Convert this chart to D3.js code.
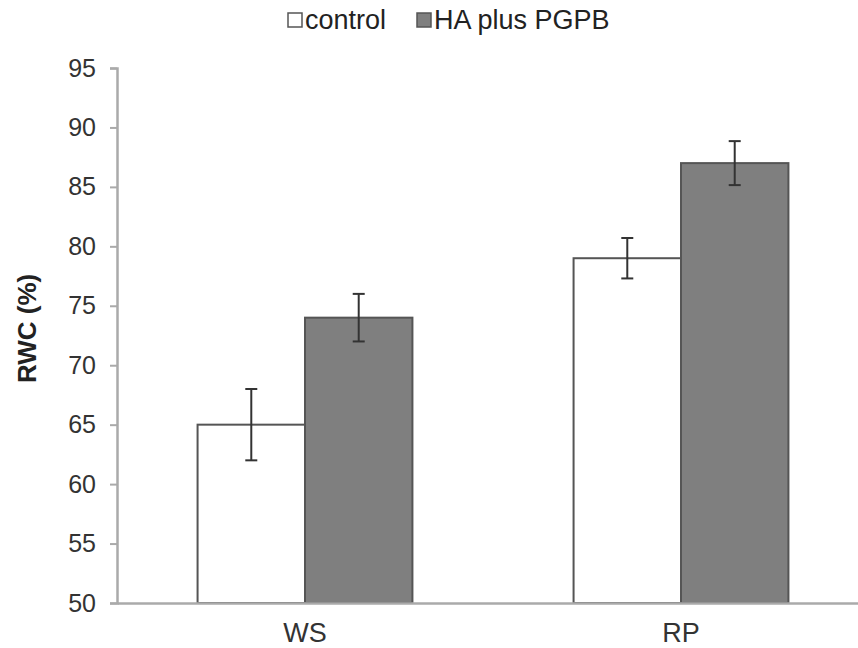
<!DOCTYPE html>
<html>
<head>
<meta charset="utf-8">
<script src="https://cdn.jsdelivr.net/npm/d3@7"></script>
<style>
  body { margin: 0; background: #fff; }
  text { font-family: "Liberation Sans", Arial, sans-serif; fill: #222; }
</style>
</head>
<body>
<div id="chart"></div>
<script>
// data
let categories = ["WS", "RP"];
let seriesNames = ["control", "HA plus PGPB"];
let controlValues = [65, 79];
let haValues = [74, 87];
let controlErrors = [3, 1.7];
let haErrors = [2, 1.85];
let yTicks = [50, 55, 60, 65, 70, 75, 80, 85, 90, 95];

let fills = ["#ffffff", "#7f7f7f"];

let width = 858, height = 648;
let margin = { top: 68, left: 117, bottom: 45 };

let svg = d3.select("#chart").append("svg")
    .attr("width", width)
    .attr("height", height);

// rows for the bars
let rows = [];
categories.forEach((c, i) => {
    rows.push({ cat: c, series: seriesNames[0], value: controlValues[i], err: controlErrors[i], fill: fills[0] });
    rows.push({ cat: c, series: seriesNames[1], value: haValues[i], err: haErrors[i], fill: fills[1] });
});

// scales
let x0 = d3.scaleBand()
    .domain(categories)
    .range([margin.left, margin.left + 752]);

let x1 = d3.scaleBand()
    .domain(seriesNames)
    .range([0, x0.bandwidth()])
    .paddingOuter(0.75);

let y = d3.scaleLinear()
    .domain([50, 95])
    .range([height - margin.bottom, margin.top]);

// y axis
let yAxis = d3.axisLeft(y)
    .tickValues(yTicks)
    .tickSize(7)
    .tickPadding(14);

let yg = svg.append("g")
    .attr("transform", "translate(" + margin.left + ",0)")
    .call(yAxis);
yg.select(".domain").attr("stroke", "#aaa").attr("stroke-width", 2.5);
yg.selectAll(".tick line").attr("stroke", "#aaa").attr("stroke-width", 2);
yg.selectAll(".tick text").attr("font-size", 25).style("fill", "#333");

// bars
svg.selectAll(".bar")
    .data(rows)
    .enter().append("rect")
    .attr("class", "bar")
    .attr("x", d => x0(d.cat) + x1(d.series))
    .attr("y", d => y(d.value))
    .attr("width", x1.bandwidth())
    .attr("height", d => y(50) - y(d.value))
    .attr("fill", d => d.fill)
    .attr("stroke", "#555")
    .attr("stroke-width", 2);

// x axis line (drawn over bar bottoms)
let xAxis = d3.axisBottom(x0)
    .tickSize(0)
    .tickPadding(20);

let xg = svg.append("g")
    .attr("transform", "translate(0," + y(50) + ")")
    .call(xAxis);
xg.select(".domain").attr("stroke", "#aaa").attr("stroke-width", 2.5);
xg.selectAll(".tick text").attr("font-size", 27).style("fill", "#333");

// error bars
let eb = svg.selectAll(".err")
    .data(rows)
    .enter().append("g")
    .attr("class", "err")
    .attr("stroke", "#333")
    .attr("stroke-width", 2);

let cx = d => x0(d.cat) + x1(d.series) + x1.bandwidth() / 2;

eb.append("line")
    .attr("x1", cx).attr("x2", cx)
    .attr("y1", d => y(d.value - d.err))
    .attr("y2", d => y(d.value + d.err));
eb.append("line")
    .attr("x1", d => cx(d) - 6).attr("x2", d => cx(d) + 6)
    .attr("y1", d => y(d.value + d.err))
    .attr("y2", d => y(d.value + d.err));
eb.append("line")
    .attr("x1", d => cx(d) - 6).attr("x2", d => cx(d) + 6)
    .attr("y1", d => y(d.value - d.err))
    .attr("y2", d => y(d.value - d.err));

// y axis title
svg.append("text")
    .attr("transform", "translate(36," + (y(73.1)) + ") rotate(-90)")
    .attr("text-anchor", "middle")
    .attr("font-size", 26)
    .attr("font-weight", "bold")
    .text("RWC (%)");

// legend
let legend = svg.append("g")
    .attr("transform", "translate(288,20)");

let legendX = [0, 129];
seriesNames.forEach((s, i) => {
    let g = legend.append("g").attr("transform", "translate(" + legendX[i] + ",0)");
    g.append("rect")
        .attr("x", 0).attr("y", -7)
        .attr("width", 14).attr("height", 14)
        .attr("fill", fills[i])
        .attr("stroke", "#555")
        .attr("stroke-width", 1.5);
    g.append("text")
        .attr("x", 17).attr("y", 9)
        .attr("font-size", 27)
        .text(s);
});
</script>
</body>
</html>
